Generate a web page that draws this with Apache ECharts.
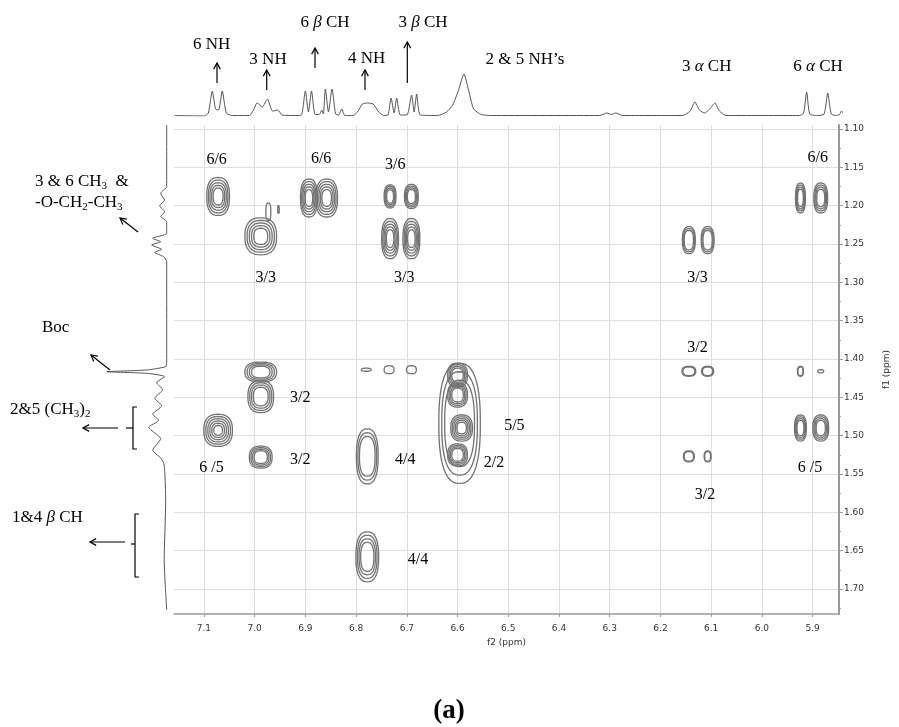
<!DOCTYPE html>
<html>
<head>
<meta charset="utf-8">
<script src="https://cdn.jsdelivr.net/npm/echarts@6/dist/echarts.min.js"></script>
<style>
  html, body { margin: 0; padding: 0; background: #fff; }
  #chart { width: 899px; height: 727px; }
</style>
</head>
<body>
<div id="chart"></div>
<script>
// f2 / f1 axis ticks (ppm)
const f2Ticks = [7.1, 7.0, 6.9, 6.8, 6.7, 6.6, 6.5, 6.4, 6.3, 6.2, 6.1, 6.0, 5.9];
const f1Ticks = [1.10, 1.15, 1.20, 1.25, 1.30, 1.35, 1.40, 1.45, 1.50, 1.55, 1.60, 1.65, 1.70];
const f1Minor = [1.125, 1.175, 1.225, 1.275, 1.325, 1.375, 1.425, 1.475, 1.525, 1.575, 1.625, 1.675, 1.725];

// 1D projection on top: [ppm, intensity]
const topPpm = [7.158, 7.10, 7.092, 7.0844, 7.078, 7.072, 7.065, 7.057, 7.045, 7.012, 7.004, 6.997, 6.987, 6.977, 6.967, 6.957, 6.948, 6.925,
  6.911, 6.903, 6.897, 6.891, 6.884, 6.876, 6.871, 6.868, 6.864, 6.858, 6.851, 6.844, 6.838, 6.832, 6.826,
  6.81, 6.80, 6.792, 6.782, 6.771, 6.76, 6.75, 6.742, 6.736, 6.730, 6.725, 6.718, 6.705, 6.696, 6.691, 6.686, 6.679,
  6.645, 6.628, 6.616, 6.605, 6.594, 6.585, 6.575, 6.56, 6.54, 6.33, 6.315, 6.307, 6.298, 6.285,
  6.168, 6.153, 6.144, 6.135, 6.125, 6.115, 6.105, 6.096, 6.083,
  5.94, 5.932, 5.926, 5.920, 5.905, 5.892, 5.885, 5.878, 5.868, 5.862, 5.858, 5.856];
const topInt = [0.5, 0, 3, 25, 7, 6, 25, 3, 0.5, 0.5, 6, 13, 9, 17, 5, 6, 1, 0.5,
  1, 25, 4, 25, 1.5, 1.5, 6, 2, 27, 4, 27, 2, 1, 7, 0.5,
  0.5, 5, 12, 13, 12, 4, 0.5, 1, 18, 3, 18, 1, 1, 21, 4, 22, 1,
  0.5, 4, 11, 25, 42, 26, 7, 1.5, 0.5, 0.5, 3, 1.5, 3, 0.5,
  0.5, 5, 14, 6, 3, 7, 13, 5, 0.5,
  0.5, 3, 24, 2, 0.5, 2, 23, 2, 0.5, 1.5, 5, 3];

// 1D projection on the left: [intensity, ppm]
const leftInt = [0, 0, 6, 2, 7, 2, 6, 0, 0, 14, 6, 15, 5, 12, 3, 0, 0, 1, 20, 60, 20, 2, 10, 4, 12, 5, 14, 8, 18, 6, 14, 6, 3, 2, 1, 2.5, 0];
const leftPpm = [1.095, 1.175, 1.184, 1.193, 1.200, 1.208, 1.214, 1.221, 1.236, 1.2426, 1.247, 1.2513, 1.257, 1.261, 1.2666, 1.273,
  1.405, 1.410, 1.4143, 1.4166, 1.4187, 1.423, 1.431, 1.440, 1.451, 1.461, 1.472, 1.480, 1.489, 1.504, 1.519, 1.529, 1.536, 1.545,
  1.584, 1.662, 1.727];

// cross peaks: centre f2, centre f1, half width (f2 ppm), half height (f1 ppm), contour levels
const peakF2 = [7.072, 6.988, 6.893, 6.858, 6.733, 6.691, 6.733, 6.691, 6.144, 6.107, 5.924, 5.884,
  6.988, 6.988, 7.072, 6.988, 6.778, 6.778, 6.780, 6.735, 6.691, 6.144, 6.107, 5.924, 5.884,
  5.924, 5.884, 6.144, 6.107, 6.596, 6.600, 6.600, 6.592, 6.600, 6.973, 6.953];
const peakF1 = [1.188, 1.240, 1.190, 1.190, 1.188, 1.188, 1.243, 1.243, 1.245, 1.245, 1.190, 1.190,
  1.417, 1.449, 1.493, 1.528, 1.527, 1.658, 1.414, 1.414, 1.414, 1.416, 1.416, 1.416, 1.416,
  1.490, 1.490, 1.527, 1.527, 1.484, 1.421, 1.447, 1.490, 1.525, 1.208, 1.205];
const peakHalfW = [0.0224, 0.0312, 0.0166, 0.0214, 0.0117, 0.0136, 0.0166, 0.0166, 0.0127, 0.0127, 0.0097, 0.0136,
  0.0312, 0.0253, 0.0282, 0.0224, 0.0214, 0.0224, 0.0097, 0.0097, 0.0097, 0.0136, 0.0117, 0.0058, 0.0058,
  0.0117, 0.0156, 0.0107, 0.0068, 0.0409, 0.0195, 0.0195, 0.0214, 0.0195, 0.0049, 0.0016];
const peakHalfH = [0.0248, 0.0241, 0.0248, 0.0248, 0.0150, 0.0157, 0.0261, 0.0261, 0.0176, 0.0176, 0.0196, 0.0196,
  0.0130, 0.0209, 0.0209, 0.0143, 0.0359, 0.0326, 0.0020, 0.0052, 0.0052, 0.0065, 0.0065, 0.0065, 0.0020,
  0.0170, 0.0170, 0.0072, 0.0072, 0.0783, 0.0157, 0.0157, 0.0170, 0.0143, 0.0117, 0.0052];
const peakLevels = [5, 5, 5, 5, 4, 4, 5, 5, 3, 3, 4, 4,
  4, 4, 6, 4, 3, 4, 1, 1, 1, 2, 2, 2, 1,
  4, 4, 2, 2, 3, 4, 4, 5, 4, 1, 1];

// assignment labels inside the map
const crossText = ['6/6', '6/6', '3/6', '6/6', '3/3', '3/3', '3/3', '3/2', '3/2', '5/5', '3/2', '6 /5', '4/4', '2/2', '6 /5', '3/2', '4/4'];
const crossTextF2 = [7.075, 6.869, 6.723, 5.890, 6.978, 6.705, 6.127, 6.127, 6.910, 6.488, 6.910, 7.085, 6.703, 6.528, 5.905, 6.112, 6.678];
const crossTextF1 = [1.140, 1.139, 1.147, 1.137, 1.294, 1.294, 1.294, 1.386, 1.451, 1.487, 1.532, 1.542, 1.532, 1.535, 1.542, 1.577, 1.662];

const X_MIN = 5.848, X_MAX = 7.159;
const Y_MIN = 1.0948, Y_MAX = 1.7326;
const serif = '"Liberation Serif", "Times New Roman", serif';
const sans = '"DejaVu Sans", sans-serif';

const peakData = peakF2.map((v, i) => [v, peakF1[i], peakHalfW[i], peakHalfH[i], peakLevels[i]]);

function arrow(x1, y1, x2, y2) {
  const a = Math.atan2(y2 - y1, x2 - x1);
  const len = 7, sp = 0.5;
  return {
    type: 'group',
    children: [
      { type: 'line', shape: { x1: x1, y1: y1, x2: x2, y2: y2 }, style: { stroke: '#000', lineWidth: 1.2 } },
      {
        type: 'polyline',
        shape: { points: [[x2 - len * Math.cos(a - sp), y2 - len * Math.sin(a - sp)], [x2, y2], [x2 - len * Math.cos(a + sp), y2 - len * Math.sin(a + sp)]] },
        style: { stroke: '#000', lineWidth: 1.2, fill: null },
      },
    ],
  };
}

function bracket(x, y1, y2, ym, tickLen) {
  return {
    type: 'group',
    children: [
      { type: 'polyline', shape: { points: [[x + 4, y1], [x, y1], [x, y2], [x + 4, y2]] }, style: { stroke: '#000', lineWidth: 1.2, fill: null } },
      { type: 'line', shape: { x1: x - tickLen, y1: ym, x2: x, y2: ym }, style: { stroke: '#000', lineWidth: 1.2 } },
    ],
  };
}

const rich = {
  g: { fontStyle: 'italic', fontFamily: serif, fontSize: 17, lineHeight: 20 },
  s: { fontFamily: serif, fontSize: 11, verticalAlign: 'bottom', lineHeight: 12 },
};

function label(text, x, y, align) {
  return {
    type: 'text', x: x, y: y,
    style: {
      text: text, fontFamily: serif, fontSize: 17, lineHeight: 20, fill: '#000',
      align: align || 'center', verticalAlign: 'middle',
      textAlign: align || 'center', textVerticalAlign: 'middle', rich: rich,
    },
  };
}

const option = {
  animation: false,
  backgroundColor: '#fff',
  grid: [
    { left: 174, top: 125, width: 672.7, height: 489 },
    { left: 174, top: 60, width: 672.7, height: 56 },
    { left: 96, top: 125, width: 70.7, height: 489 },
  ],
  xAxis: [
    {
      gridIndex: 0, type: 'value', inverse: true, min: X_MIN, max: X_MAX,
      name: 'f2 (ppm)', nameLocation: 'middle', nameGap: 23,
      nameTextStyle: { fontFamily: sans, fontSize: 9, color: '#333' },
      axisLine: { show: true, lineStyle: { color: '#999', width: 1.5 } },
      axisTick: { show: true, length: 3, customValues: f2Ticks, lineStyle: { color: '#999' } },
      axisLabel: { customValues: f2Ticks, formatter: (v) => v.toFixed(1), margin: 10, fontFamily: sans, fontSize: 9, color: '#333' },
      splitLine: { show: true, lineStyle: { color: '#dedede', width: 1 } },
    },
    { gridIndex: 1, type: 'value', inverse: true, min: X_MIN, max: X_MAX, show: false },
    { gridIndex: 2, type: 'value', inverse: true, min: 0, max: 70.7, show: false },
  ],
  yAxis: [
    {
      gridIndex: 0, type: 'value', inverse: true, min: Y_MIN, max: Y_MAX, position: 'right',
      name: 'f1 (ppm)', nameLocation: 'middle', nameGap: 43, nameRotate: 90,
      nameTextStyle: { fontFamily: sans, fontSize: 9, color: '#333' },
      axisLine: { show: true, lineStyle: { color: '#999', width: 2 } },
      axisTick: { show: true, length: 4, customValues: f1Ticks, lineStyle: { color: '#999' } },
      axisLabel: { customValues: f1Ticks, formatter: (v) => v.toFixed(2), margin: 5, fontFamily: sans, fontSize: 9, color: '#333' },
      splitLine: { show: true, lineStyle: { color: '#dedede', width: 1 } },
    },
    {
      gridIndex: 0, type: 'value', inverse: true, min: Y_MIN, max: Y_MAX, position: 'right',
      axisLine: { show: false },
      axisTick: { show: true, length: 2, customValues: f1Minor, lineStyle: { color: '#999' } },
      axisLabel: { show: false },
      splitLine: { show: false },
    },
    { gridIndex: 1, type: 'value', min: 0, max: 56, show: false },
    { gridIndex: 2, type: 'value', inverse: true, min: Y_MIN, max: Y_MAX, show: false },
  ],
  series: [
    {
      name: 'contours',
      type: 'custom',
      xAxisIndex: 0,
      yAxisIndex: 0,
      clip: true,
      data: peakData,
      renderItem: function (params, api) {
        const c = api.coord([api.value(0), api.value(1)]);
        const sz = api.size([api.value(2), api.value(3)]);
        const n = api.value(4);
        const children = [];
        for (let i = 0; i < n; i++) {
          const s = 1 - i * 0.14;
          const pts = [];
          for (let k = 0; k < 60; k++) {
            const t = (k / 60) * Math.PI * 2;
            const ct = Math.cos(t), st = Math.sin(t);
            pts.push([
              c[0] + sz[0] * s * Math.sign(ct) * Math.pow(Math.abs(ct), 0.8),
              c[1] + sz[1] * s * Math.sign(st) * Math.pow(Math.abs(st), 0.8),
            ]);
          }
          children.push({ type: 'polygon', shape: { points: pts }, style: { fill: null, stroke: '#727272', lineWidth: 1.3 } });
        }
        return { type: 'group', children: children };
      },
    },
    {
      name: 'assign',
      type: 'scatter',
      xAxisIndex: 0,
      yAxisIndex: 0,
      symbolSize: 0,
      itemStyle: { opacity: 1 },
      data: crossText.map((t, i) => ({ name: t, value: [crossTextF2[i], crossTextF1[i]] })),
      label: { show: true, position: 'inside', formatter: '{b}', fontFamily: serif, fontSize: 16, color: '#000', textBorderWidth: 0, opacity: 1 },
      emphasis: { disabled: true },
    },
    {
      name: 'top1d',
      type: 'line',
      xAxisIndex: 1,
      yAxisIndex: 2,
      showSymbol: false,
      smooth: 0.2,
      data: topPpm.map((p, i) => [p, topInt[i]]),
      lineStyle: { color: '#555', width: 1 },
    },
    {
      name: 'left1d',
      type: 'line',
      xAxisIndex: 2,
      yAxisIndex: 3,
      showSymbol: false,
      smooth: 0.2,
      data: leftInt.map((v, i) => [v, leftPpm[i]]),
      lineStyle: { color: '#555', width: 1 },
    },
  ],
  graphic: {
    elements: [
      label('6 NH', 211.7, 45),
      label('3 NH', 268, 60),
      label('6 {g|β} CH', 325, 23),
      label('4 NH', 366.7, 59),
      label('3 {g|β} CH', 423, 23),
      label('2 & 5 NH’s', 525, 60),
      label('3 {g|α} CH', 706.7, 67),
      label('6 {g|α} CH', 818, 67),
      arrow(217, 83, 217, 63),
      arrow(266.7, 90, 266.7, 70),
      arrow(315, 68, 315, 48),
      arrow(365, 90, 365, 70),
      arrow(407.3, 83, 407.3, 42),

      label('3 & 6 CH{s|3}  &', 35, 182, 'left'),
      label('-O-CH{s|2}-CH{s|3}', 35, 203, 'left'),
      label('Boc', 42, 328, 'left'),
      label('2&5 (CH{s|3}){s|2}', 10, 410, 'left'),
      label('1&4 {g|β} CH', 12, 518, 'left'),
      arrow(138, 232, 120, 218),
      arrow(110, 370, 91, 355),
      arrow(118, 428, 83, 428),
      arrow(125, 542, 90, 542),
      bracket(133, 407, 449, 428, 7),
      bracket(135, 514, 577, 544, 4),
      {
        type: 'text', x: 449, y: 711,
        style: {
          text: '(a)', fontFamily: serif, fontSize: 27, fontWeight: 'bold', fill: '#000',
          align: 'center', verticalAlign: 'middle', textAlign: 'center', textVerticalAlign: 'middle',
        },
      },
    ],
  },
};

echarts.init(document.getElementById('chart')).setOption(option);
</script>
</body>
</html>
